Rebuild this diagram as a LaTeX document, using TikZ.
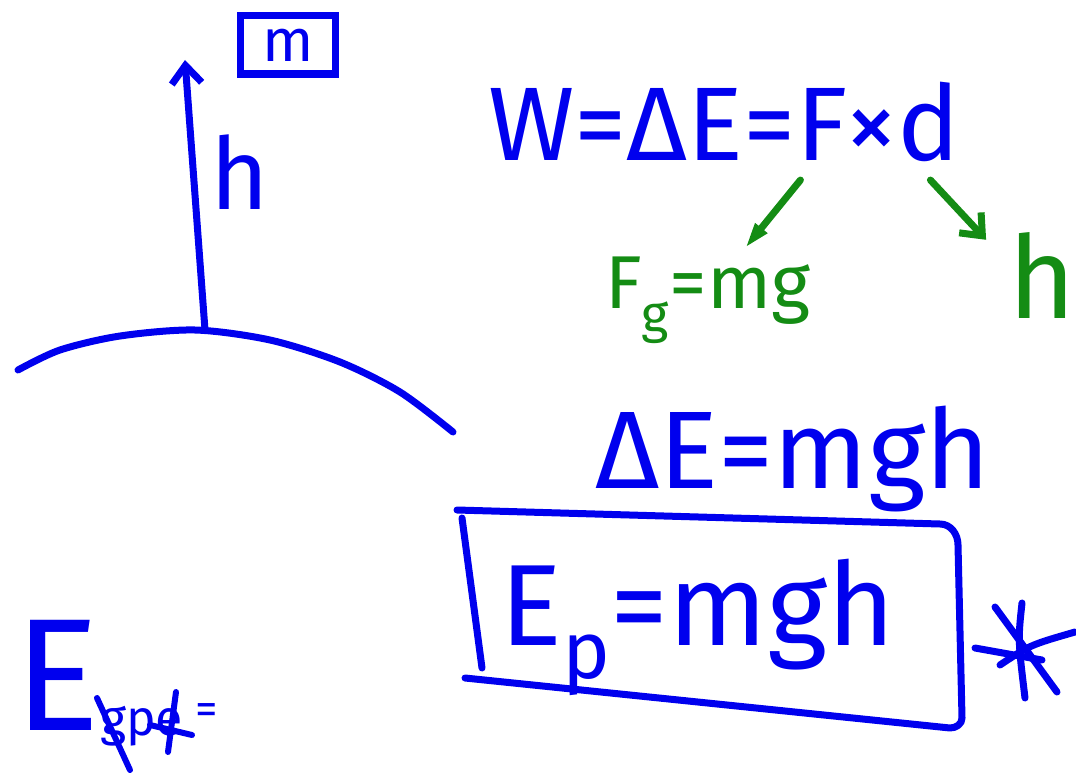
\documentclass[tikz,border=0pt]{standalone}
\usepackage{fontspec}
\setmainfont{Fira Sans}
\usepackage{tikz}
\usetikzlibrary{positioning,arrows.meta,calc}
\definecolor{penblue}{RGB}{0,0,238}
\definecolor{pengreen}{RGB}{20,140,20}

\begin{document}
\begin{tikzpicture}[x=1pt,y=-1pt,
    ink/.style={draw=penblue, line width=7pt, line cap=round, line join=round},
    gink/.style={ink, draw=pengreen},
    txt/.style={text=penblue, inner sep=0pt, font=\fontsize{100}{100}\selectfont},
    gtxt/.style={txt, text=pengreen},
    barb/.style={-{Straight Barb[length=18pt,width=30pt]}},
    gbarb/.style={-{Triangle[open,length=26pt,width=14pt]}},
]
\useasboundingbox (0,0) rectangle (1076,776);

% hill and height arrow
\draw[ink] plot[smooth] coordinates {(18,370) (60,350) (120,336) (195,330) (270,340) (340,362) (400,392) (453,432)};
\coordinate (base) at (205,330);
\coordinate (top) at (185,60);
\draw[ink, barb] (base) -- (top);
\node[txt] (hgt) at (240,172) {h};
\node[txt, draw=penblue, line width=7pt, minimum width=95pt, minimum height=58pt,
      font=\fontsize{60}{60}\selectfont] (mass) at (288,45) {m};

% work
\node[txt, anchor=west] (work) at (488,122) {\resizebox{472pt}{!}{W=ΔE=F×d}};
\node[gtxt, anchor=base west] (fg) at (605,308) {\resizebox{205pt}{!}{F\textsubscript{g}=mg}};
\node[gtxt, font=\fontsize{115}{115}\selectfont] (gh) at (1042,275) {h};
\draw[gink, gbarb] ($(work.south east)+(-160,18)$) -- ($(fg.north west)+(140,-8)$);
\draw[gink, barb] ($(work.south east)+(-30,18)$) -- ($(gh.north west)+(-22,8)$);

% potential energy
\node[txt, anchor=base west] (dE) at (595,488) {\resizebox{395pt}{!}{ΔE=mgh}};
\node[txt, anchor=base west] (Ep) at (500,645) {\resizebox{395pt}{!}{E\textsubscript{p}=mgh}};
\draw[ink] (457,510) -- (940,524) to[out=0,in=90] (958,545) -- (962,718) to[out=-90,in=0] (950,728) -- (465,678);
\draw[ink] (462,518) -- (482,668);

% star
\coordinate (star) at (1022,655);
\draw[ink] (995,607) -- (1057,692);
\draw[ink] (1022,603) .. controls (1018,640) .. (1025,698);
\draw[ink] (975,648) -- (1042,660);
\draw[ink] (1000,665) .. controls (1030,645) .. (1075,632);

% E gpe
\node[txt, anchor=base west, font=\fontsize{160}{160}\selectfont] (Ebig) at (14,730) {E};
\node[txt, anchor=base west, font=\fontsize{50}{50}\selectfont] (sub) at (100,735) {gpe};
\node[txt, font=\fontsize{45}{45}\selectfont, right=12pt of sub.east, anchor=west, yshift=12pt] (eq) {=};
\draw[ink, line width=6pt] (97,698) -- (130,770);
\draw[ink, line width=6pt] (176,692) -- (168,752);
\draw[ink, line width=6pt] (150,725) -- (192,735);
\end{tikzpicture}
\end{document}
